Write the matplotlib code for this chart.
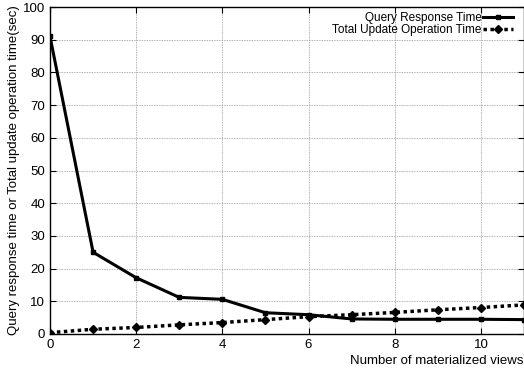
import matplotlib
matplotlib.use('Agg')
import matplotlib.pyplot as plt

plt.rcParams['font.family'] = ['Liberation Sans', 'DejaVu Sans']

views = [0, 1, 2, 3, 4, 5, 6, 7, 8, 9, 10, 11]
query_time = [91, 25.0, 17.2, 11.2, 10.6, 6.5, 5.9, 4.6, 4.5, 4.5, 4.5, 4.4]
update_time = [0.4, 1.45, 2.0, 2.8, 3.5, 4.4, 5.3, 5.9, 6.6, 7.4, 8.1, 8.9]

fig = plt.figure(figsize=(5.24, 3.68), dpi=100)
ax = fig.add_axes([50/524, 34/368, 474/524, 327/368])

ax.plot(views, query_time, color='black', linestyle='-', linewidth=2.2,
        marker='s', markersize=2.5, label='Query Response Time')
ax.plot(views, update_time, color='black', linestyle=(0, (1, 1)), linewidth=2.5,
        marker='D', markersize=4.5, label='Total Update Operation Time')

ax.set_xlim(0, 11)
ax.set_ylim(0, 100)
ax.set_xticks([0, 2, 4, 6, 8, 10])
ax.set_yticks(range(0, 101, 10))
ax.tick_params(direction='in', labelsize=9.5, length=4, top=True, right=True)
ax.grid(True, color='#999999', linestyle=(0, (1, 1)), linewidth=0.6)
for s in ax.spines.values():
    s.set_linewidth(1.0)

ax.set_ylabel('Query response time or Total update operation time(sec)', fontsize=9.5, labelpad=2)
ax.set_xlabel('Number of materialized views', fontsize=9.5, loc='right', labelpad=3)

ax.legend(loc='upper right', frameon=False, markerfirst=False, fontsize=8.5,
          handlelength=2.5, labelspacing=0.0, borderaxespad=0, borderpad=0,
          handletextpad=0.15, bbox_to_anchor=(463/474, 0.985))

fig.savefig('out.png', dpi=100)
